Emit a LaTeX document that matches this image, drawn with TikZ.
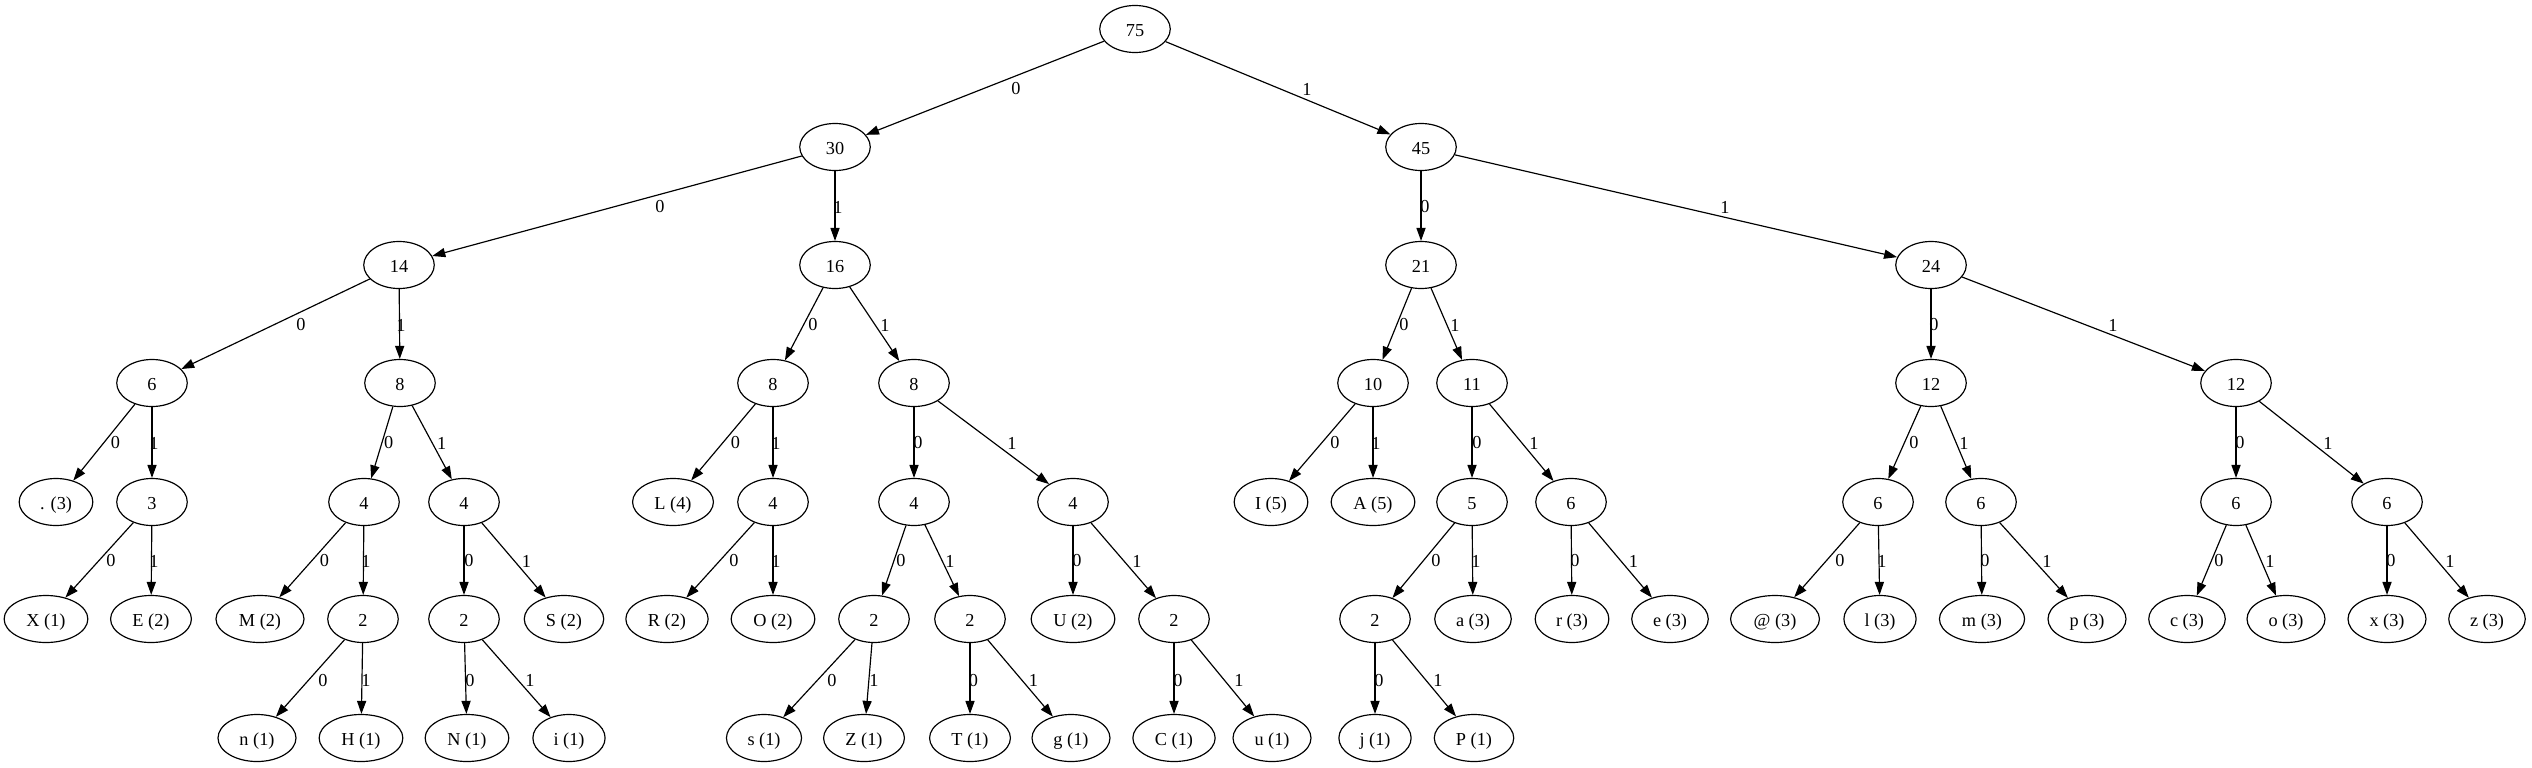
\documentclass[tikz,border=0pt]{standalone}
\usepackage{fontspec}
\setmainfont{Liberation Serif}
\usetikzlibrary{arrows.meta,shapes.geometric}
\begin{document}
\begin{tikzpicture}[x=0.7657pt, y=-0.7657pt,
  nodo/.style={draw, ellipse, line width=0.9pt, minimum width=54pt, minimum height=36pt,
    inner xsep=7.7pt, inner ysep=2pt, text height=12pt, text depth=1pt,
    font=\fontsize{14}{16}\selectfont},
  arista/.style={line width=0.9pt, -{Triangle[length=10pt, width=7pt]}},
  etiq/.style={inner sep=0pt, font=\fontsize{14}{16}\selectfont}]
\useasboundingbox (0,0) rectangle (2532,767);

% Raiz y niveles 1-2
\node[nodo] (r) at (1135,29) {75};
\node[nodo] (r0) at (835,147) {30};
\node[nodo] (r1) at (1421,147) {45};
\node[nodo] (r00) at (399,265) {14};
\node[nodo] (r01) at (835,265) {16};
\node[nodo] (r10) at (1421,265) {21};
\node[nodo] (r11) at (1931,265) {24};

% Nivel 3
\node[nodo] (r000) at (152,383) {6};
\node[nodo] (r001) at (400,383) {8};
\node[nodo] (r010) at (773,383) {8};
\node[nodo] (r011) at (914,383) {8};
\node[nodo] (r100) at (1373,383) {10};
\node[nodo] (r101) at (1472,383) {11};
\node[nodo] (r110) at (1931,383) {12};
\node[nodo] (r111) at (2236,383) {12};

% Nivel 4
\node[nodo] (r0000) at (56,502) {. (3)};
\node[nodo] (r0001) at (152,502) {3};
\node[nodo] (r0010) at (364,502) {4};
\node[nodo] (r0011) at (464,502) {4};
\node[nodo] (r0100) at (673,502) {L (4)};
\node[nodo] (r0101) at (773,502) {4};
\node[nodo] (r0110) at (914,502) {4};
\node[nodo] (r0111) at (1073,502) {4};
\node[nodo] (r1000) at (1271,502) {I (5)};
\node[nodo] (r1001) at (1373,502) {A (5)};
\node[nodo] (r1010) at (1472,502) {5};
\node[nodo] (r1011) at (1571,502) {6};
\node[nodo] (r1100) at (1878,502) {6};
\node[nodo] (r1101) at (1981,502) {6};
\node[nodo] (r1110) at (2236,502) {6};
\node[nodo] (r1111) at (2387,502) {6};

% Nivel 5
\node[nodo] (r00010) at (46,619) {X (1)};
\node[nodo] (r00011) at (151,619) {E (2)};
\node[nodo] (r00100) at (260,619) {M (2)};
\node[nodo] (r00101) at (363,619) {2};
\node[nodo] (r00110) at (464,619) {2};
\node[nodo] (r00111) at (564,619) {S (2)};
\node[nodo] (r01010) at (667,619) {R (2)};
\node[nodo] (r01011) at (773,619) {O (2)};
\node[nodo] (r01100) at (874,619) {2};
\node[nodo] (r01101) at (970,619) {2};
\node[nodo] (r01110) at (1073,619) {U (2)};
\node[nodo] (r01111) at (1174,619) {2};
\node[nodo] (r10100) at (1375,619) {2};
\node[nodo] (r10101) at (1473,619) {a (3)};
\node[nodo] (r10110) at (1572,619) {r (3)};
\node[nodo] (r10111) at (1670,619) {e (3)};
\node[nodo] (r11000) at (1775,619) {@ (3)};
\node[nodo] (r11001) at (1880,619) {l (3)};
\node[nodo] (r11010) at (1982,619) {m (3)};
\node[nodo] (r11011) at (2087,619) {p (3)};
\node[nodo] (r11100) at (2187,619) {c (3)};
\node[nodo] (r11101) at (2286,619) {o (3)};
\node[nodo] (r11110) at (2387,619) {x (3)};
\node[nodo] (r11111) at (2487,619) {z (3)};

% Nivel 6 (hojas)
\node[nodo] (r001010) at (257,738) {n (1)};
\node[nodo] (r001011) at (361,738) {H (1)};
\node[nodo] (r001100) at (467,738) {N (1)};
\node[nodo] (r001101) at (569,738) {i (1)};
\node[nodo] (r011000) at (764,738) {s (1)};
\node[nodo] (r011001) at (864,738) {Z (1)};
\node[nodo] (r011010) at (970,738) {T (1)};
\node[nodo] (r011011) at (1071,738) {g (1)};
\node[nodo] (r011110) at (1174,738) {C (1)};
\node[nodo] (r011111) at (1272,738) {u (1)};
\node[nodo] (r101000) at (1375,738) {j (1)};
\node[nodo] (r101001) at (1474,738) {P (1)};

% Aristas con su bit
\foreach \padre/\hijo/\bit/\lx/\ly in {
  r/r0/0/1016/89, r/r1/1/1307/89,
  r0/r00/0/660/207, r0/r01/1/838/207, r1/r10/0/1425/207, r1/r11/1/1725/207,
  r00/r000/0/301/325, r00/r001/1/401/325, r01/r010/0/813/325, r01/r011/1/885/325,
  r10/r100/0/1404/325, r10/r101/1/1455/325, r11/r110/0/1934/325, r11/r111/1/2113/325,
  r000/r0000/0/115.5/443, r000/r0001/1/154/443, r001/r0010/0/388.6/443, r001/r0011/1/441.6/443,
  r010/r0100/0/735.5/443, r010/r0101/1/776/443, r011/r0110/0/918/443, r011/r0111/1/1012/443,
  r100/r1000/0/1335/443, r100/r1001/1/1376/443, r101/r1010/0/1477/443, r101/r1011/1/1534/443,
  r110/r1100/0/1914/443, r110/r1101/1/1964/443, r111/r1110/0/2240/443, r111/r1111/1/2328/443,
  r0001/r00010/0/111/561, r0001/r00011/1/154/561, r0010/r00100/0/324.5/561, r0010/r00101/1/366/561,
  r0011/r00110/0/469/561, r0011/r00111/1/526.5/561, r0101/r01010/0/734/561, r0101/r01011/1/776/561,
  r0110/r01100/0/901/561, r0110/r01101/1/950/561, r0111/r01110/0/1077/561, r0111/r01111/1/1137/561,
  r1010/r10100/0/1436/561, r1010/r10101/1/1476/561, r1011/r10110/0/1575/561, r1011/r10111/1/1633.5/561,
  r1100/r11000/0/1840/561, r1100/r11001/1/1882/561, r1101/r11010/0/1985/561, r1101/r11011/1/2047/561,
  r1110/r11100/0/2219/561, r1110/r11101/1/2270/561, r1111/r11110/0/2391/561, r1111/r11111/1/2450/561,
  r00101/r001010/0/323/680, r00101/r001011/1/366/680, r00110/r001100/0/470/680, r00110/r001101/1/530/680,
  r01100/r011000/0/832/680, r01100/r011001/1/874/680, r01101/r011010/0/973.5/680, r01101/r011011/1/1033.5/680,
  r01111/r011110/0/1178/680, r01111/r011111/1/1239/680, r10100/r101000/0/1379/680, r10100/r101001/1/1438/680}
  \draw[arista] (\padre) -- (\hijo) node[etiq] at (\lx,\ly) {\bit};
\end{tikzpicture}
\end{document}
